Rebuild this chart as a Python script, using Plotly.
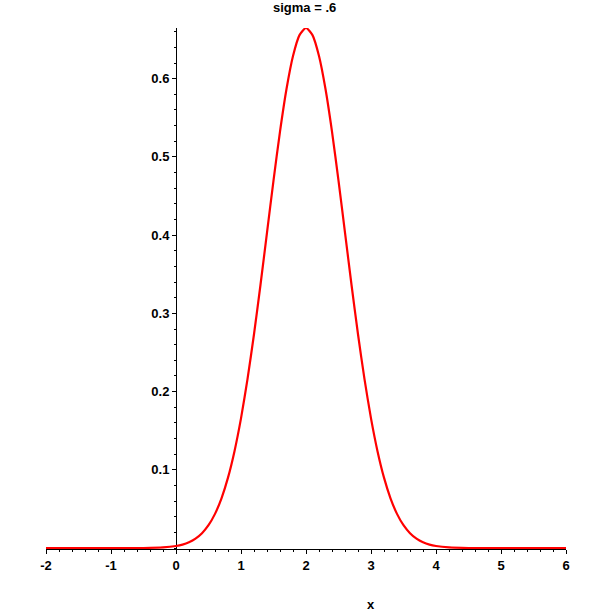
import plotly.graph_objects as go

# values (normal density, mean 2, sigma .6)
x_vals = [-2.0, -1.0, -0.5, -0.2, 0.0, 0.1, 0.2, 0.3, 0.4, 0.5, 0.6, 0.7, 0.8, 0.9,
          1.0, 1.1, 1.2, 1.3, 1.4, 1.5, 1.6, 1.7, 1.8, 1.9,
          2.0, 2.1, 2.2, 2.3, 2.4, 2.5, 2.6, 2.7, 2.8, 2.9,
          3.0, 3.1, 3.2, 3.3, 3.4, 3.5, 3.6, 3.7, 3.8, 3.9,
          4.0, 4.2, 4.5, 5.0, 6.0]
y_vals = [0.0, 0.0, 0.0001, 0.0008, 0.0026, 0.0044, 0.0074, 0.0120, 0.0190, 0.0292, 0.0437, 0.0636, 0.0900, 0.1239,
          0.1658, 0.2159, 0.2733, 0.3366, 0.4033, 0.4698, 0.5324, 0.5868, 0.6290, 0.6557,
          0.6649, 0.6557, 0.6290, 0.5868, 0.5324, 0.4698, 0.4033, 0.3366, 0.2733, 0.2159,
          0.1658, 0.1239, 0.0900, 0.0636, 0.0437, 0.0292, 0.0190, 0.0120, 0.0074, 0.0044,
          0.0026, 0.0008, 0.0001, 0.0, 0.0]

x_ticks = [-2, -1, 0, 1, 2, 3, 4, 5, 6]
y_ticks = [0.1, 0.2, 0.3, 0.4, 0.5, 0.6]
title_text = "sigma = .6"
x_label = "x"

FONT = "Liberation Sans, Arial, sans-serif"
FS = 13

fig = go.Figure()
fig.add_trace(go.Scatter(x=x_vals, y=y_vals, mode="lines",
                         line=dict(color="#ff0000", width=2.2, shape="spline", smoothing=0.6),
                         hoverinfo="skip", showlegend=False))

fig.update_layout(
    width=611, height=611,
    margin=dict(l=46, r=45, t=28, b=62, pad=0),
    paper_bgcolor="white", plot_bgcolor="white",
    font=dict(family=FONT, size=FS, color="black", weight="bold"),
    showlegend=False,
    xaxis=dict(range=[-2, 6], tickvals=x_ticks, ticktext=[str(v) for v in x_ticks],
               showgrid=False, zeroline=False, showline=True, linecolor="black", linewidth=1,
               ticks="outside", ticklen=4, tickcolor="black",
               minor=dict(dtick=0.2, tick0=0, ticks="outside", ticklen=2, tickcolor="black"),
               tickfont=dict(family=FONT, size=FS, weight="bold"),
               layer="below traces", anchor="y"),
    yaxis=dict(range=[-0.0012, 0.6648], tickvals=y_ticks, ticktext=[str(v) for v in y_ticks],
               showgrid=False, zeroline=False, showline=True, linecolor="black", linewidth=1,
               ticks="outside", ticklen=4, tickcolor="black",
               minor=dict(dtick=0.02, tick0=0, ticks="outside", ticklen=2, tickcolor="black"),
               tickfont=dict(family=FONT, size=FS, weight="bold"),
               anchor="free", position=0.25, layer="below traces"),
    annotations=[
        dict(text=title_text, xref="paper", yref="paper", x=0.498, y=1.040,
             xanchor="center", yanchor="middle", showarrow=False,
             font=dict(family=FONT, size=FS, weight="bold")),
        dict(text=x_label, xref="paper", yref="paper", x=0.625, y=-0.1056,
             xanchor="center", yanchor="middle", showarrow=False,
             font=dict(family=FONT, size=FS, weight="bold")),
    ],
)

fig.write_html("out.html", config={"displayModeBar": False},
               post_script="document.body.style.margin='0';document.body.style.overflow='hidden';")
